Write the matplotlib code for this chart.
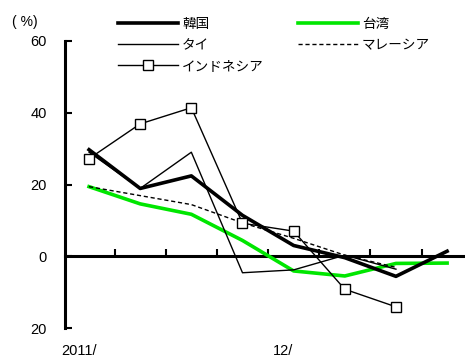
import matplotlib.pyplot as plt
import numpy as np

plt.rcParams['font.family'] = ['Liberation Sans', 'Noto Sans CJK JP', 'DejaVu Sans']

# 四半期ごとの前年比（%）
quarters = ["2011/", "", "", "", "12/", "", "", ""]
korea = [29.7, 18.9, 22.4, 11.4, 3.0, -0.4, -5.6, 1.4]
taiwan = [19.4, 14.6, 11.7, 4.4, -4.1, -5.5, -2.0, -1.9]
thai = [29.0, 18.9, 29.0, -4.6, -3.8, 0.3, -3.6]
malaysia = [19.4, 16.9, 14.4, 9.3, 5.0, 0.3, -3.1]
indonesia = [27.2, 36.9, 41.4, 9.2, 7.0, -9.2, -14.1]

fig = plt.figure(figsize=(4.65, 3.58), dpi=100)
ax = fig.add_axes([65 / 465, 30 / 358, 1 - 65 / 465, 287 / 358])

x = np.arange(len(quarters))
h_korea, = ax.plot(x, korea, color='black', lw=2.6, zorder=5, label='韓国')
h_taiwan, = ax.plot(x, taiwan, color='#00e600', lw=2.6, zorder=3, label='台湾')
h_thai, = ax.plot(x[:len(thai)], thai, color='black', lw=1.0, zorder=4, label='タイ')
h_malay, = ax.plot(x[:len(malaysia)], malaysia, color='black', lw=1.0, ls=(0, (3, 2)),
                   zorder=4, label='マレーシア')
h_indo, = ax.plot(x[:len(indonesia)], indonesia, color='black', lw=1.0, marker='s',
                  ms=7, mfc='white', mec='black', mew=1.0, zorder=6, label='インドネシア')

ax.set_xlim(-0.47, 7.35)
ax.set_ylim(-20, 60)

# 軸まわり
for s in ['top', 'right']:
    ax.spines[s].set_visible(False)
ax.spines['left'].set_linewidth(2.2)
ax.spines['bottom'].set_position(('data', 0))
ax.spines['bottom'].set_linewidth(2.2)
ax.spines['bottom'].set_zorder(2)

ax.set_yticks([-20, 0, 20, 40, 60])
ax.set_yticklabels(['20', '0', '20', '40', '60'], fontsize=10.5)
ax.tick_params(axis='y', direction='in', length=5, width=1.5, pad=13)

ax.set_xticks(np.arange(0.5, 7.0, 1.0))
ax.set_xticklabels([])
ax.tick_params(axis='x', direction='in', length=5, width=1.5)

# 年のラベル
for i, q in enumerate(quarters):
    if q:
        ax.text(i - 0.2, -26.3, q, ha='center', va='center', fontsize=10.5)

fig.text(12 / 465, 1 - 22 / 358, '( %)', ha='left', va='center', fontsize=10)

handles = [h_korea, h_thai, h_indo, h_taiwan, h_malay]
leg = fig.legend(handles=handles, labels=[h.get_label() for h in handles],
                 ncol=2, frameon=False, loc='upper left',
                 bbox_to_anchor=(106 / 465, 1 - 5 / 358),
                 handlelength=4.4, handletextpad=0.3, columnspacing=2.5,
                 labelspacing=0.5, fontsize=9.8)

fig.savefig('out.png', dpi=100)
